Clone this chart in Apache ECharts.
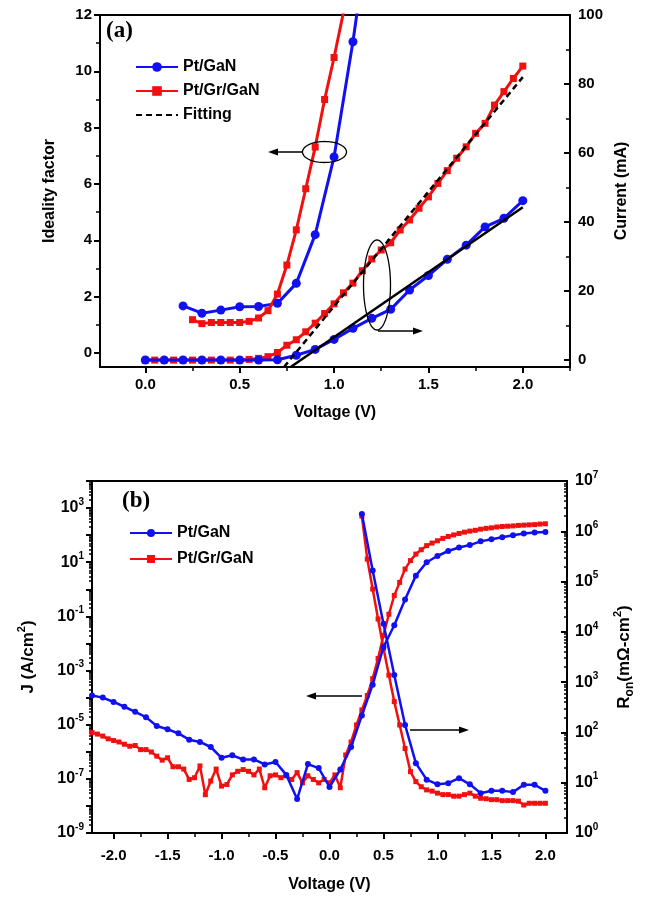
<!DOCTYPE html>
<html><head><meta charset="utf-8">
<script src="https://cdn.jsdelivr.net/npm/echarts@6/dist/echarts.min.js"></script>
<style>html,body{margin:0;padding:0;background:#fff}#c{width:652px;height:898px}</style>
</head><body><div id="c"></div>
<script>
// ---------- Panel (a) data ----------
const idealV_GaN = [0.2,0.3,0.4,0.5,0.6,0.7,0.8,0.9,1.0,1.1,1.2];
const ideal_GaN  = [1.67,1.41,1.52,1.64,1.65,1.76,2.47,4.2,6.96,11.05,15.8];
const idealV_Gr  = [0.25,0.3,0.35,0.4,0.45,0.5,0.55,0.6,0.65,0.7,0.75,0.8,0.85,0.9,0.95,1.0,1.05];
const ideal_Gr   = [1.18,1.04,1.08,1.08,1.08,1.08,1.12,1.24,1.5,2.09,3.12,4.37,5.83,7.31,9.0,10.49,12.1];
const currV_GaN = [0.0,0.1,0.2,0.3,0.4,0.5,0.6,0.7,0.8,0.9,1.0,1.1,1.2,1.3,1.4,1.5,1.6,1.7,1.8,1.9,2.0];
const curr_GaN  = [0,0,0,0,0,0,0,0.1,1.4,3.1,6.0,9.2,12.1,14.7,20.3,24.5,29.2,33.3,38.6,41.1,46.2];
const currV_Gr = [0.0,0.05,0.1,0.15,0.2,0.25,0.3,0.35,0.4,0.45,0.5,0.55,0.6,0.65,0.7,0.75,0.8,0.85,0.9,0.95,1.0,
  1.05,1.1,1.15,1.2,1.25,1.3,1.35,1.4,1.45,1.5,1.55,1.6,1.65,1.7,1.75,1.8,1.85,1.9,1.95,2.0];
const curr_Gr  = [0,0,0,0,0,0,0,0,0,0,0,0.2,0.5,1.0,2.2,4.3,5.9,8.2,10.7,13.5,16.3,
  19.5,22.3,25.9,29.3,31.9,34.0,37.7,40.6,44.0,47.3,51.2,54.9,58.5,61.8,65.7,68.6,73.9,77.8,81.6,85.2];
const fitGrV = [0.735, 2.0];
const fitGrI = [-2, 82];
const fitGaNV = [0.77, 2.0];
const fitGaNI = [-2, 44.3];
const xTicksA = [0, 0.5, 1.0, 1.5, 2.0];
const xMinorA = [0.25, 0.75, 1.25, 1.75, 2.25];
const yLeftTicksA = [0, 2, 4, 6, 8, 10, 12];
const yLeftMinorA = [1, 3, 5, 7, 9, 11];
const yRightTicksA = [0, 20, 40, 60, 80, 100];
const yRightMinorA = [10, 30, 50, 70, 90];

// ---------- Panel (b) data ----------
const jV_GaN = [-2.2,-2.1,-2.0,-1.9,-1.8,-1.7,-1.6,-1.5,-1.4,-1.3,-1.2,-1.1,-1.0,-0.9,-0.8,-0.7,-0.6,-0.5,-0.4,-0.3,-0.2,-0.1,
  0.0,0.1,0.2,0.3,0.4,0.5,0.6,0.7,0.8,0.9,1.0,1.1,1.2,1.3,1.4,1.5,1.6,1.7,1.8,1.9,2.0];
const j_GaN = [1.2e-4,1.0e-4,6.9e-5,4.6e-5,3.0e-5,1.9e-5,8.9e-6,6.8e-6,4.8e-6,2.8e-6,2.3e-6,1.5e-6,6.0e-7,7.4e-7,5.2e-7,5.2e-7,
  3.4e-7,4.2e-7,1.4e-7,1.8e-8,3.5e-7,2.5e-7,5.0e-8,2.2e-7,1.5e-6,2.2e-5,3.0e-4,7.4e-3,4.7e-2,0.42,3.2,10,17,26,35,43,59,71,83,100,115,126,132];
const jV_Gr = [-2.2,-2.15,-2.1,-2.05,-2.0,-1.95,-1.9,-1.85,-1.8,-1.75,-1.7,-1.65,-1.6,-1.55,-1.5,-1.45,-1.4,-1.35,-1.3,-1.25,
  -1.2,-1.15,-1.1,-1.05,-1.0,-0.95,-0.9,-0.85,-0.8,-0.75,-0.7,-0.65,-0.6,-0.55,-0.5,-0.45,-0.4,-0.35,-0.3,-0.25,-0.2,-0.15,-0.1,-0.05,
  0.0,0.05,0.1,0.15,0.2,0.25,0.3,0.35,0.4,0.45,0.5,0.55,0.6,0.65,0.7,0.75,0.8,0.85,0.9,0.95,1.0,1.05,1.1,1.15,1.2,1.25,1.3,1.35,
  1.4,1.45,1.5,1.55,1.6,1.65,1.7,1.75,1.8,1.85,1.9,1.95,2.0];
const j_Gr = [5.1e-6,4.5e-6,3.8e-6,3.0e-6,2.6e-6,2.3e-6,1.9e-6,1.6e-6,1.7e-6,1.2e-6,1.2e-6,9.8e-7,6.9e-7,4.9e-7,6.0e-7,2.8e-7,2.8e-7,
  2.3e-7,9.5e-8,1.1e-7,3.0e-7,2.6e-8,8.3e-8,2.3e-7,5.4e-8,6.2e-8,1.4e-7,1.9e-7,2.2e-7,1.9e-7,1.4e-7,2.3e-7,4.7e-8,1.3e-7,1.4e-7,
  1.1e-7,1.3e-7,9.5e-8,1.7e-7,7.1e-8,1.3e-7,9.5e-8,7.1e-8,9.5e-8,7.1e-8,1.4e-7,4.7e-8,7.6e-7,2.3e-6,9.8e-6,3.5e-5,1.2e-4,5.0e-4,
  2.8e-3,2.0e-2,0.12,0.59,1.8,5.6,11.5,20,29,41,51,62,76,89,102,115,129,141,151,166,178,186,200,209,214,219,229,234,240,245,257,263];
const rV_GaN = [0.3,0.4,0.5,0.6,0.7,0.8,0.9,1.0,1.1,1.2,1.3,1.4,1.5,1.6,1.7,1.8,1.9,2.0];
const r_GaN = [2.2e6,1.66e5,1.45e4,1380,141,24.5,11.5,9.3,9.8,12.3,9.3,6.2,6.9,6.9,6.5,9.1,9.1,6.9];
const rV_Gr = [0.3,0.35,0.4,0.45,0.5,0.55,0.6,0.65,0.7,0.75,0.8,0.85,0.9,0.95,1.0,1.05,1.1,1.15,1.2,1.25,1.3,1.35,1.4,
  1.45,1.5,1.55,1.6,1.65,1.7,1.75,1.8,1.85,1.9,1.95,2.0];
const r_Gr = [2.0e6,2.8e5,7.1e4,1.8e4,4700,1380,410,141,48,16.6,10.5,8.3,7.2,6.8,6.2,5.8,5.8,5.4,5.4,5.8,6.2,5.4,4.9,4.8,
  4.6,4.6,4.4,4.4,4.4,4.3,3.6,3.9,3.9,3.9,3.9];
const xTicksB = [-2.0,-1.5,-1.0,-0.5,0.0,0.5,1.0,1.5,2.0];
const xMinorB = [-1.75,-1.25,-0.75,-0.25,0.25,0.75,1.25,1.75];
const jLabelVals = [1e-9,1e-7,1e-5,1e-3,1e-1,1e1,1e3];
const jDecades = [1e-9,1e-8,1e-7,1e-6,1e-5,1e-4,1e-3,1e-2,1e-1,1,1e1,1e2,1e3,1e4];
const rDecades = [1,1e1,1e2,1e3,1e4,1e5,1e6,1e7];

// ---------- helpers ----------
const pairs = (xs, ys) => xs.map((x, i) => [x, ys[i]]);
const minorLog = (decades) => { const out = []; decades.forEach(d => { for (let k = 2; k <= 9; k++) out.push(d * k); }); return out; };
const SANS = '"Liberation Sans", Arial, sans-serif';
const SERIF = '"Liberation Serif", "Times New Roman", serif';
const BLUE = '#1010f0', RED = '#f01010';
const lbl = { color: '#000', fontFamily: SANS, fontWeight: 'bold', fontSize: 15 };
const nameStyle = { color: '#000', fontFamily: SANS, fontWeight: 'bold', fontSize: 16 };
const line2 = { show: true, onZero: false, lineStyle: { color: '#000', width: 2 } };
const expFmt = v => '{b|10}{s|' + Math.round(Math.log10(v)) + '}';
const expRich = { b: { fontFamily: SANS, fontWeight: 'bold', fontSize: 16, color: '#000', lineHeight: 22 },
                  s: { fontFamily: SANS, fontWeight: 'bold', fontSize: 10, color: '#000', verticalAlign: 'top', lineHeight: 22 } };

function minorAxis(gridIndex, pos, extra, vals, inside, len) {
  return Object.assign({ type: 'value', gridIndex, position: pos, splitLine: { show: false },
    axisLine: { show: false, onZero: false }, axisLabel: { show: false },
    axisTick: { show: true, inside: !!inside, length: len, customValues: vals, lineStyle: { color: '#000', width: 1.5 } } }, extra);
}

const chart = echarts.init(document.getElementById('c'));
const option = {
  animation: false,
  backgroundColor: '#fff',
  grid: [
    { left: 100, right: 82, top: 15, height: 352, show: true, borderColor: '#000', borderWidth: 2 },
    { left: 92, right: 85, top: 481, height: 352, show: true, borderColor: '#000', borderWidth: 2 }
  ],
  legend: [
    { left: 130, top: 54, orient: 'vertical', itemWidth: 42, itemHeight: 12, itemGap: 8,
      data: ['Pt/GaN', 'Pt/Gr/GaN', { name: 'Fitting', itemStyle: { opacity: 0 } }],
      textStyle: { color: '#000', fontFamily: SANS, fontWeight: 'bold', fontSize: 16 } },
    { left: 124, top: 520, orient: 'vertical', itemWidth: 42, itemHeight: 10, itemGap: 10,
      data: ['Pt/GaN ', 'Pt/Gr/GaN '], textStyle: { color: '#000', fontFamily: SANS, fontWeight: 'bold', fontSize: 16 } }
  ],
  xAxis: [
    { type: 'value', gridIndex: 0, min: -0.24, max: 2.25, splitLine: { show: false }, axisLine: line2,
      axisTick: { customValues: xTicksA, length: 6, lineStyle: { width: 2 } },
      axisLabel: { customValues: xTicksA, formatter: v => v.toFixed(1), margin: 10, ...lbl },
      name: 'Voltage (V)', nameLocation: 'middle', nameGap: 38, nameTextStyle: nameStyle },
    { type: 'value', gridIndex: 1, min: -2.2, max: 2.2, splitLine: { show: false }, axisLine: line2,
      axisTick: { customValues: xTicksB, length: 6, lineStyle: { width: 2 } },
      axisLabel: { customValues: xTicksB, formatter: v => v.toFixed(1), margin: 15, ...lbl },
      name: 'Voltage (V)', nameLocation: 'middle', nameGap: 44, nameTextStyle: nameStyle },
    minorAxis(0, 'bottom', { min: -0.24, max: 2.25 }, xMinorA, false, 4),
    minorAxis(1, 'bottom', { min: -2.2, max: 2.2 }, xMinorB, false, 4)
  ],
  yAxis: [
    { type: 'value', gridIndex: 0, position: 'left', min: -0.5, max: 12, splitLine: { show: false }, axisLine: line2,
      axisTick: { customValues: yLeftTicksA, length: 6, lineStyle: { width: 2 } },
      axisLabel: { customValues: yLeftTicksA, margin: 8, ...lbl },
      name: 'Ideality factor', nameLocation: 'middle', nameGap: 42, nameRotate: 90, nameTextStyle: nameStyle },
    { type: 'value', gridIndex: 0, position: 'right', min: -2, max: 100, splitLine: { show: false }, axisLine: line2,
      axisTick: { customValues: yRightTicksA, inside: true, length: 6, lineStyle: { width: 2 } },
      axisLabel: { customValues: yRightTicksA, margin: 8, ...lbl },
      name: 'Current (mA)', nameLocation: 'middle', nameGap: 44, nameRotate: 90, nameTextStyle: nameStyle },
    { type: 'log', logBase: 10, gridIndex: 1, position: 'left', min: 1e-9, max: 1e4, splitLine: { show: false }, axisLine: line2,
      axisTick: { customValues: jDecades, length: 6, lineStyle: { width: 2 } },
      axisLabel: { customValues: jLabelVals, formatter: expFmt, rich: expRich, margin: 8 },
      name: '{m|J (A/cm}{s|2}{m|)}', nameLocation: 'middle', nameGap: 52, nameRotate: 90,
      nameTextStyle: { rich: { m: { ...nameStyle, fontSize: 17, lineHeight: 24 }, s: { ...nameStyle, fontSize: 11, verticalAlign: 'top', lineHeight: 24 } } } },
    { type: 'log', logBase: 10, gridIndex: 1, position: 'right', min: 1, max: 1e7, splitLine: { show: false }, axisLine: line2,
      axisTick: { customValues: rDecades, inside: true, length: 6, lineStyle: { width: 2 } },
      axisLabel: { customValues: rDecades, formatter: expFmt, rich: expRich, margin: 8 },
      name: '{m|R}{u|on}{m|(mΩ-cm}{s|2}{m|)}', nameLocation: 'middle', nameGap: 45, nameRotate: 90,
      nameTextStyle: { rich: { m: { ...nameStyle, fontSize: 17, lineHeight: 24 }, u: { ...nameStyle, fontSize: 12, verticalAlign: 'bottom', lineHeight: 24 },
        s: { ...nameStyle, fontSize: 11, verticalAlign: 'top', lineHeight: 24 } } } },
    minorAxis(0, 'left', { min: -0.5, max: 12 }, yLeftMinorA, false, 4),
    minorAxis(0, 'right', { min: -2, max: 100 }, yRightMinorA, true, 4),
    Object.assign(minorAxis(1, 'left', { min: 1e-9, max: 1e4 }, minorLog(jDecades.slice(0, -1)), false, 3), { type: 'log', logBase: 10 }),
    Object.assign(minorAxis(1, 'right', { min: 1, max: 1e7 }, minorLog(rDecades.slice(0, -1)), true, 3), { type: 'log', logBase: 10 })
  ],
  series: [
    { name: 'Pt/GaN', type: 'line', xAxisIndex: 0, yAxisIndex: 0, data: pairs(idealV_GaN, ideal_GaN), symbol: 'circle', symbolSize: 9,
      color: BLUE, lineStyle: { width: 3 }, clip: true, z: 3 },
    { name: 'Pt/Gr/GaN', type: 'line', xAxisIndex: 0, yAxisIndex: 0, data: pairs(idealV_Gr, ideal_Gr), symbol: 'rect', symbolSize: 7,
      color: RED, lineStyle: { width: 3 }, clip: true, z: 3 },
    { name: 'Pt/GaN', type: 'line', xAxisIndex: 0, yAxisIndex: 1, data: pairs(currV_GaN, curr_GaN), symbol: 'circle', symbolSize: 9,
      color: BLUE, lineStyle: { width: 3 }, clip: true, z: 3 },
    { name: 'Pt/Gr/GaN', type: 'line', xAxisIndex: 0, yAxisIndex: 1, data: pairs(currV_Gr, curr_Gr), symbol: 'rect', symbolSize: 7,
      color: RED, lineStyle: { width: 3 }, clip: true, z: 2 },
    { name: 'Fitting', type: 'line', xAxisIndex: 0, yAxisIndex: 1, data: pairs(fitGrV, fitGrI), symbol: 'none',
      color: '#000', lineStyle: { width: 2.5, type: [6, 4] }, clip: true, z: 4 },
    { name: 'fit2', type: 'line', xAxisIndex: 0, yAxisIndex: 1, data: pairs(fitGaNV, fitGaNI), symbol: 'none',
      color: '#000', lineStyle: { width: 2.5 }, clip: true, z: 4 },
    { name: 'Pt/GaN ', type: 'line', xAxisIndex: 1, yAxisIndex: 2, data: pairs(jV_GaN, j_GaN), symbol: 'circle', symbolSize: 6,
      color: BLUE, lineStyle: { width: 2.5 }, clip: true, z: 3 },
    { name: 'Pt/Gr/GaN ', type: 'line', xAxisIndex: 1, yAxisIndex: 2, data: pairs(jV_Gr, j_Gr), symbol: 'rect', symbolSize: 5,
      color: RED, lineStyle: { width: 2.5 }, clip: true, z: 2 },
    { name: 'Pt/GaN ', type: 'line', xAxisIndex: 1, yAxisIndex: 3, data: pairs(rV_GaN, r_GaN), symbol: 'circle', symbolSize: 6,
      color: BLUE, lineStyle: { width: 2.5 }, clip: true, z: 3 },
    { name: 'Pt/Gr/GaN ', type: 'line', xAxisIndex: 1, yAxisIndex: 3, data: pairs(rV_Gr, r_Gr), symbol: 'rect', symbolSize: 5,
      color: RED, lineStyle: { width: 2.5 }, clip: true, z: 2 }
  ]
};
chart.setOption(option);

// ---------- annotations (decorations) ----------
function ellipse(cx, cy, rx, ry) {
  const pts = [];
  for (let i = 0; i < 72; i++) { const t = i / 72 * 2 * Math.PI; pts.push([cx + rx * Math.cos(t), cy + ry * Math.sin(t)]); }
  return { type: 'polygon', shape: { points: pts }, style: { fill: 'none', stroke: '#000', lineWidth: 1.3 }, z: 10 };
}
function arrow(x1, y1, x2, y2) {
  const dx = x2 - x1, dy = y2 - y1, L = Math.hypot(dx, dy), ux = dx / L, uy = dy / L, h = 10, w = 3.5;
  const bx = x2 - ux * h, by = y2 - uy * h;
  return [
    { type: 'line', shape: { x1, y1, x2: bx, y2: by }, style: { stroke: '#000', lineWidth: 1.5 }, z: 10 },
    { type: 'polygon', shape: { points: [[x2, y2], [bx - uy * w, by + ux * w], [bx + uy * w, by - ux * w]] }, style: { fill: '#000' }, z: 10 }
  ];
}
chart.setOption({
  graphic: [
    { type: 'text', left: 106, top: 20, style: { text: '(a)', font: 'bold 23px ' + SERIF, fill: '#000' }, z: 10 },
    { type: 'text', left: 122, top: 490, style: { text: '(b)', font: 'bold 23px ' + SERIF, fill: '#000' }, z: 10 },
    ellipse(324.5, 152, 22, 10.5),
    ...arrow(302, 152, 268, 152),
    ellipse(377, 285, 13.5, 45),
    ...arrow(378, 331, 423, 331),
    ...arrow(362, 696, 306, 696),
    ...arrow(410, 730, 469, 730)
  ]
});
</script></body></html>
